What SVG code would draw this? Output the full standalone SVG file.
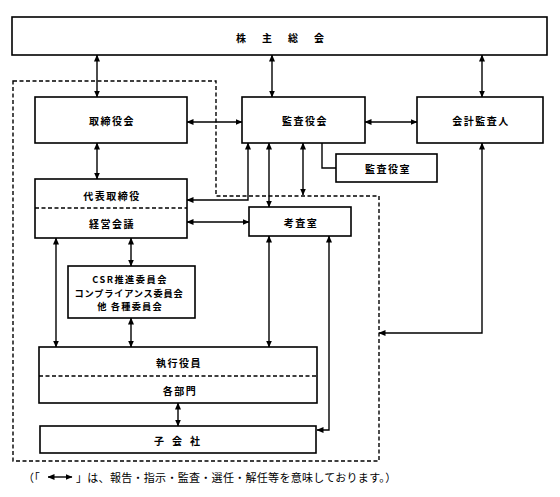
<svg xmlns="http://www.w3.org/2000/svg" width="560" height="497" viewBox="0 0 560 497">
<style>
.box{fill:#fff;stroke:#000;stroke-width:1.6}
.dash{fill:none;stroke:#000;stroke-width:1.4;stroke-dasharray:4 2.5}
.ln{fill:none;stroke:#000;stroke-width:1.4}
.bi{marker-start:url(#ah);marker-end:url(#ah)}
.t{font-family:"Noto Sans CJK JP","Noto Sans",sans-serif;font-size:10px;font-weight:bold;text-anchor:middle;dominant-baseline:central;letter-spacing:1.5px}
.c{font-family:"Noto Sans CJK JP","Noto Sans",sans-serif;font-size:9.2px;font-weight:bold;text-anchor:middle;dominant-baseline:central}
.lg{font-family:"Noto Sans CJK JP","Noto Sans",sans-serif;font-size:11px;dominant-baseline:central;letter-spacing:0.3px}
</style>
<defs>
<marker id="ah" markerUnits="userSpaceOnUse" markerWidth="7" markerHeight="6" refX="6.5" refY="3" orient="auto-start-reverse">
<path d="M0,0 L7,3 L0,6 Z" fill="#000"/>
</marker>
</defs>
<rect width="560" height="497" fill="#fff"/>
<path id="boundary" class="dash" d="M13,81 H216 V196 H379 V461 H13 Z"/>
<g id="connectors">
<line class="ln bi" x1="97" y1="55" x2="97" y2="97"/>
<line class="ln bi" x1="272" y1="55" x2="272" y2="97"/>
<line class="ln bi" x1="482" y1="55" x2="482" y2="97"/>
<line class="ln bi" x1="187" y1="122" x2="242" y2="122"/>
<line class="ln bi" x1="365" y1="122" x2="417" y2="122"/>
<line class="ln bi" x1="97" y1="143" x2="97" y2="179"/>
<path class="ln bi" d="M248,143 V200 H187"/>
<line class="ln bi" x1="269" y1="143" x2="269" y2="207"/>
<line class="ln bi" x1="303" y1="143" x2="303" y2="195"/>
<path class="ln" d="M322,143 V168 H336"/>
<line class="ln bi" x1="187" y1="222" x2="249" y2="222"/>
<line class="ln bi" x1="56" y1="238" x2="56" y2="347"/>
<line class="ln bi" x1="131" y1="238" x2="131" y2="266"/>
<line class="ln bi" x1="131" y1="318" x2="131" y2="347"/>
<line class="ln bi" x1="269" y1="236" x2="269" y2="347"/>
<path class="ln bi" d="M329,236 V430 H317"/>
<path class="ln bi" d="M482,143 V333 H379"/>
<line class="ln bi" x1="178" y1="403" x2="178" y2="426"/>
</g>
<g id="shareholders">
<rect class="box" x="12" y="17" width="535" height="38"/>
<text class="t" x="288" y="37" style="letter-spacing:16px">株主総会</text>
</g>
<g id="board">
<rect class="box" x="35" y="97" width="152" height="46"/>
<text class="t" x="112" y="120">取締役会</text>
</g>
<g id="auditors">
<rect class="box" x="242" y="97" width="123" height="46"/>
<text class="t" x="305" y="120">監査役会</text>
</g>
<g id="accounting-auditor">
<rect class="box" x="417" y="97" width="126" height="46"/>
<text class="t" x="481" y="120">会計監査人</text>
</g>
<g id="audit-office">
<rect class="box" x="336" y="154" width="101" height="28"/>
<text class="t" x="388" y="168">監査役室</text>
</g>
<g id="representative">
<rect class="box" x="35" y="179" width="152" height="59"/>
<line class="dash" x1="35" y1="208" x2="187" y2="208"/>
<text class="t" x="112" y="195">代表取締役</text>
<text class="t" x="112" y="223">経営会議</text>
</g>
<g id="inspection">
<rect class="box" x="249" y="207" width="102" height="29"/>
<text class="t" x="301" y="222">考査室</text>
</g>
<g id="committees">
<rect class="box" x="68" y="266" width="127" height="52"/>
<text class="c" x="130" y="279" style="letter-spacing:1.5px">CSR推進委員会</text>
<text class="c" x="129" y="292.5" style="letter-spacing:0.8px">コンプライアンス委員会</text>
<text class="c" x="130" y="306" style="letter-spacing:1.2px">他 各種委員会</text>
</g>
<g id="officers">
<rect class="box" x="39" y="347" width="278" height="56"/>
<line class="dash" x1="39" y1="376" x2="317" y2="376"/>
<text class="t" x="179" y="362">執行役員</text>
<text class="t" x="180" y="390">各部門</text>
</g>
<g id="subsidiaries">
<rect class="box" x="40" y="426" width="276" height="27"/>
<text class="t" x="181" y="440" style="letter-spacing:8px">子会社</text>
</g>
<g id="legend">
<text class="lg" x="23" y="477">（「</text>
<line class="ln bi" x1="48" y1="477" x2="72" y2="477"/>
<text class="lg" x="76" y="477">」は、報告・指示・監査・選任・解任等を意味しております。）</text>
</g>
</svg>
